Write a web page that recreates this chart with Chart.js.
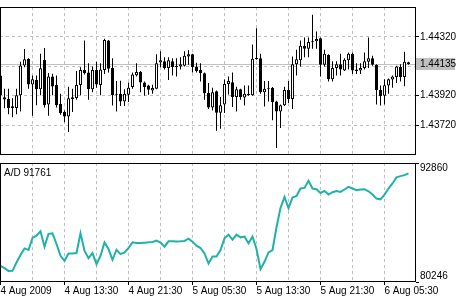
<!DOCTYPE html>
<html>
<head>
<meta charset="utf-8">
<script src="https://cdn.jsdelivr.net/npm/chart.js@4.4.1/dist/chart.umd.min.js"></script>
<style>
    html, body { margin: 0; padding: 0; background: #fff; }
    #wrap { position: relative; width: 464px; height: 301px; overflow: hidden; }
    canvas { position: absolute; left: 0; }
    #priceChart { top: 0; }
    #adChart { top: 162px; }
</style>
</head>
<body>
<div id="wrap">
    <canvas id="priceChart" width="464" height="162"></canvas>
    <canvas id="adChart" width="464" height="139"></canvas>
</div>
<script>
    // EURUSD M30, 4-6 Aug 2009
    const open = [1.44057,1.43910,1.43898,1.43848,1.43836,1.43923,1.44126,1.44171,1.43997,1.44026,
        1.43964,1.44165,1.43861,1.44051,1.43995,1.43865,1.43809,1.43778,1.43910,1.43904,
        1.43993,1.44094,1.44078,1.43964,1.44094,1.43993,1.44094,1.44295,1.44109,1.43927,
        1.43933,1.43881,1.43927,1.43979,1.44059,1.44082,1.44010,1.43989,1.43956,1.43968,
        1.44146,1.44155,1.44109,1.44155,1.44119,1.44119,1.44123,1.44186,1.44202,1.44119,
        1.44094,1.44072,1.43939,1.43840,1.43950,1.43805,1.43861,1.43999,1.44012,1.43912,
        1.43964,1.43908,1.43933,1.43923,1.44169,1.44175,1.43943,1.43974,1.43974,1.43881,
        1.43813,1.43856,1.43958,1.43898,1.44134,1.44161,1.44260,1.44239,1.44289,1.44291,
        1.44310,1.44130,1.44198,1.44032,1.44109,1.44134,1.44092,1.44161,1.44206,1.44099,
        1.44092,1.44109,1.44150,1.44175,1.44130,1.43958,1.43919,1.43989,1.44030,1.44047,
        1.44115,1.44047,1.44148];
    const high = [1.44064,1.43968,1.43968,1.43902,1.43968,1.44150,1.44237,1.44175,1.44057,1.44057,
        1.44206,1.44244,1.44074,1.44070,1.44057,1.43933,1.43819,1.43981,1.43968,1.44088,
        1.44113,1.44295,1.44140,1.44119,1.44150,1.44140,1.44308,1.44299,1.44175,1.44020,
        1.44022,1.43964,1.44010,1.44078,1.44140,1.44088,1.44016,1.43995,1.43995,1.44202,
        1.44223,1.44181,1.44181,1.44175,1.44175,1.44181,1.44223,1.44229,1.44206,1.44144,
        1.44140,1.44078,1.44006,1.43974,1.43956,1.43912,1.44030,1.44051,1.44078,1.43981,
        1.43968,1.43989,1.43989,1.44268,1.44378,1.44206,1.44020,1.44020,1.43979,1.43885,
        1.43861,1.43981,1.44020,1.44186,1.44233,1.44295,1.44316,1.44316,1.44471,1.44357,
        1.44316,1.44233,1.44202,1.44155,1.44155,1.44206,1.44175,1.44213,1.44213,1.44140,
        1.44140,1.44213,1.44316,1.44192,1.44134,1.43989,1.44032,1.44037,1.44057,1.44123,
        1.44134,1.44219,1.44150];
    const low = [1.43902,1.43834,1.43794,1.43774,1.43794,1.43813,1.44113,1.43968,1.43784,1.43856,
        1.43923,1.43840,1.43784,1.43923,1.43840,1.43790,1.43740,1.43674,1.43809,1.43892,
        1.43923,1.44065,1.43892,1.43943,1.43974,1.43923,1.44068,1.44078,1.43854,1.43813,
        1.43850,1.43850,1.43877,1.43968,1.44051,1.43943,1.43919,1.43927,1.43933,1.43964,
        1.44113,1.44099,1.44026,1.44057,1.44051,1.44099,1.44119,1.44130,1.44078,1.44078,
        1.44016,1.43892,1.43830,1.43819,1.43681,1.43695,1.43803,1.43929,1.43844,1.43813,
        1.43892,1.43854,1.43919,1.43919,1.44165,1.43933,1.43846,1.43881,1.43753,1.43565,
        1.43701,1.43850,1.43871,1.43830,1.44057,1.44119,1.44181,1.44181,1.44239,1.44239,
        1.44051,1.44119,1.44016,1.44016,1.44057,1.44057,1.44088,1.44099,1.44068,1.44068,
        1.44068,1.44099,1.44109,1.44123,1.43861,1.43854,1.43861,1.43933,1.43974,1.44006,
        1.44016,1.43985,1.44130];
    const close = [1.43923,1.43894,1.43836,1.43836,1.43923,1.44126,1.44167,1.43997,1.44032,1.43964,
        1.44107,1.43856,1.44051,1.43983,1.43856,1.43801,1.43778,1.43902,1.43898,1.43993,
        1.44094,1.44072,1.43964,1.44094,1.43997,1.44099,1.44299,1.44103,1.43923,1.43933,
        1.43881,1.43933,1.43974,1.44064,1.44082,1.44010,1.43979,1.43960,1.43972,1.44140,
        1.44161,1.44109,1.44161,1.44115,1.44115,1.44134,1.44192,1.44202,1.44115,1.44088,
        1.44072,1.43937,1.43840,1.43943,1.43805,1.43856,1.43999,1.44020,1.43912,1.43964,
        1.43912,1.43933,1.43923,1.44171,1.44173,1.43943,1.43968,1.43968,1.43875,1.43813,
        1.43856,1.43958,1.43898,1.44134,1.44167,1.44260,1.44239,1.44285,1.44283,1.44306,
        1.44130,1.44206,1.44032,1.44109,1.44134,1.44099,1.44165,1.44206,1.44092,1.44088,
        1.44109,1.44155,1.44175,1.44130,1.43958,1.43917,1.43991,1.44032,1.44051,1.44119,
        1.44047,1.44150,1.44135];
    const adValues = [81956,81710,81422,81430,82309,83100,83806,83635,84917,85163,
        85623,83987,85345,85409,84276,83025,82491,83271,83280,83314,
        85409,83560,82779,83314,82138,83025,84447,83741,82598,83667,
        83207,83378,83848,84447,84383,84390,84415,84447,84490,84629,
        84415,83987,84554,84560,84550,84556,84597,84842,84522,84094,
        83848,83271,82202,82950,82955,83635,84875,85270,84736,85270,
        84981,85056,84340,85056,83741,81603,82384,83378,83635,86050,
        88082,89257,88082,89193,89364,90155,90220,90968,90155,90081,
        89685,89899,89514,89760,89899,89792,90049,90326,90155,89974,
        90049,90081,89867,89514,89086,89012,89514,90155,90690,91331,
        91470,91577,91761];

    const xTickLabels = ['4 Aug 2009', '4 Aug 13:30', '4 Aug 21:30', '5 Aug 05:30', '5 Aug 13:30', '5 Aug 21:30', '6 Aug 05:30'];
    const gridBars = [0, 8, 16, 24, 32, 40, 48, 56, 64, 72, 80, 88, 96];
    const priceTicks = [1.43720, 1.43920, 1.44120, 1.44320];
    const hiddenPriceTick = 1.44120;  // covered by the bid label
    const priceMin = 1.43517, priceMax = 1.44523;
    const adMin = 80246, adMax = 92860;
    const xMin = -0.125, xMax = 103.875;

    const GRID = '#c0c0c0';
    const DASH = [3, 3];
    Chart.defaults.font.family = 'Liberation Sans';
    Chart.defaults.font.size = 10;
    Chart.defaults.color = '#000';

    const framePlugin = {
        id: 'frame',
        afterDraw(chart) {
            const a = chart.chartArea, c = chart.ctx;
            c.save();
            c.strokeStyle = '#000';
            c.lineWidth = 1;
            c.strokeRect(a.left + 0.5, a.top + 0.5, a.right - a.left - 1, a.bottom - a.top - 1);
            c.restore();
        }
    };

    const bidPlugin = {
        id: 'bid',
        beforeDatasetsDraw(chart) {
            const a = chart.chartArea, c = chart.ctx;
            const y = Math.round(chart.scales.y.getPixelForValue(close[close.length - 1])) + 0.5;
            c.save();
            c.strokeStyle = GRID;
            c.beginPath();
            c.moveTo(a.left, y);
            c.lineTo(a.right, y);
            c.stroke();
            c.restore();
        },
        afterDraw(chart) {
            const a = chart.chartArea, c = chart.ctx;
            const last = close[close.length - 1];
            const y = Math.round(chart.scales.y.getPixelForValue(last));
            c.save();
            c.fillStyle = GRID;
            c.fillRect(a.right, y - 6, 39, 12);
            c.fillStyle = '#000';
            c.font = '10px "Liberation Sans"';
            c.textBaseline = 'middle';
            c.fillText(last.toFixed(5), a.right + 4, y);
            c.restore();
        }
    };

    new Chart(document.getElementById('priceChart'), {
        type: 'bar',
        data: {
            datasets: [{
                label: 'wick',
                data: open.map((o, i) => ({ x: i, y: [low[i], high[i]] })),
                backgroundColor: '#000',
                barThickness: 1,
                inflateAmount: 0,
                grouped: false,
                order: 2
            }, {
                label: 'body',
                data: open.map((o, i) => ({ x: i, y: [o, close[i]] })),
                backgroundColor: open.map((o, i) => close[i] < o ? '#000' : '#fff'),
                borderColor: '#000',
                borderWidth: 1,
                borderSkipped: false,
                barThickness: 3,
                minBarLength: 1,
                inflateAmount: 0,
                grouped: false,
                order: 1
            }]
        },
        options: {
            responsive: false,
            animation: false,
            layout: { padding: 0 },
            plugins: { legend: { display: false }, tooltip: { enabled: false } },
            scales: {
                x: {
                    type: 'linear', min: xMin, max: xMax, bounds: 'data', offset: false,
                    afterBuildTicks: s => { s.ticks = gridBars.map(v => ({ value: v })); },
                    afterFit: s => { s.height = 0; },
                    ticks: { display: false },
                    grid: { color: GRID, drawTicks: false, offset: false },
                    border: { display: false, dash: DASH }
                },
                y: {
                    position: 'right', min: priceMin, max: priceMax,
                    afterBuildTicks: s => { s.ticks = priceTicks.map(v => ({ value: v })); },
                    afterFit: s => { s.width = 48; },
                    ticks: { padding: 1, callback: v => v === hiddenPriceTick ? '' : v.toFixed(5) },
                    grid: { color: GRID, tickColor: '#000', tickLength: 3 },
                    border: { display: false, dash: DASH }
                }
            }
        },
        plugins: [bidPlugin, framePlugin]
    });

    const adTextPlugin = {
        id: 'adText',
        afterDraw(chart) {
            const a = chart.chartArea, c = chart.ctx, y = chart.scales.y;
            c.save();
            c.fillStyle = '#000';
            c.font = '10px "Liberation Sans"';
            c.textBaseline = 'middle';
            c.fillText('A/D ' + adValues[adValues.length - 1], a.left + 4, a.top + 10);
            c.fillText(String(adMax), a.right + 4, y.getPixelForValue(adMax) + 5);
            c.fillText(String(adMin), a.right + 4, y.getPixelForValue(adMin) - 6);
            c.restore();
        }
    };

    new Chart(document.getElementById('adChart'), {
        type: 'line',
        data: {
            datasets: [{
                label: 'A/D',
                data: adValues.map((v, i) => ({ x: i, y: v })),
                borderColor: '#20b2aa',
                borderWidth: 2,
                pointRadius: 0,
                tension: 0
            }]
        },
        options: {
            responsive: false,
            animation: false,
            layout: { padding: { top: 1 } },
            plugins: { legend: { display: false }, tooltip: { enabled: false } },
            scales: {
                x: {
                    type: 'linear', min: xMin, max: xMax, bounds: 'data', offset: false,
                    afterBuildTicks: s => { s.ticks = gridBars.map(v => ({ value: v })); },
                    afterFit: s => { s.height = 19; },
                    ticks: {
                        align: 'start', maxRotation: 0, autoSkip: false, padding: 0,
                        callback: v => v % 16 === 0 ? xTickLabels[v / 16] : ''
                    },
                    grid: {
                        color: GRID, tickLength: 3, offset: false,
                        tickColor: ctx => ctx.tick && ctx.tick.value % 16 === 0 ? '#000' : 'rgba(0,0,0,0)'
                    },
                    border: { display: false, dash: DASH }
                },
                y: {
                    position: 'right', min: adMin, max: adMax,
                    afterBuildTicks: s => { s.ticks = [adMin, adMax].map(v => ({ value: v })); },
                    afterFit: s => { s.width = 48; },
                    ticks: { display: false },
                    grid: { drawOnChartArea: false, tickColor: '#000', tickLength: 3 },
                    border: { display: false }
                }
            }
        },
        plugins: [adTextPlugin, framePlugin]
    });
</script>
</body>
</html>
